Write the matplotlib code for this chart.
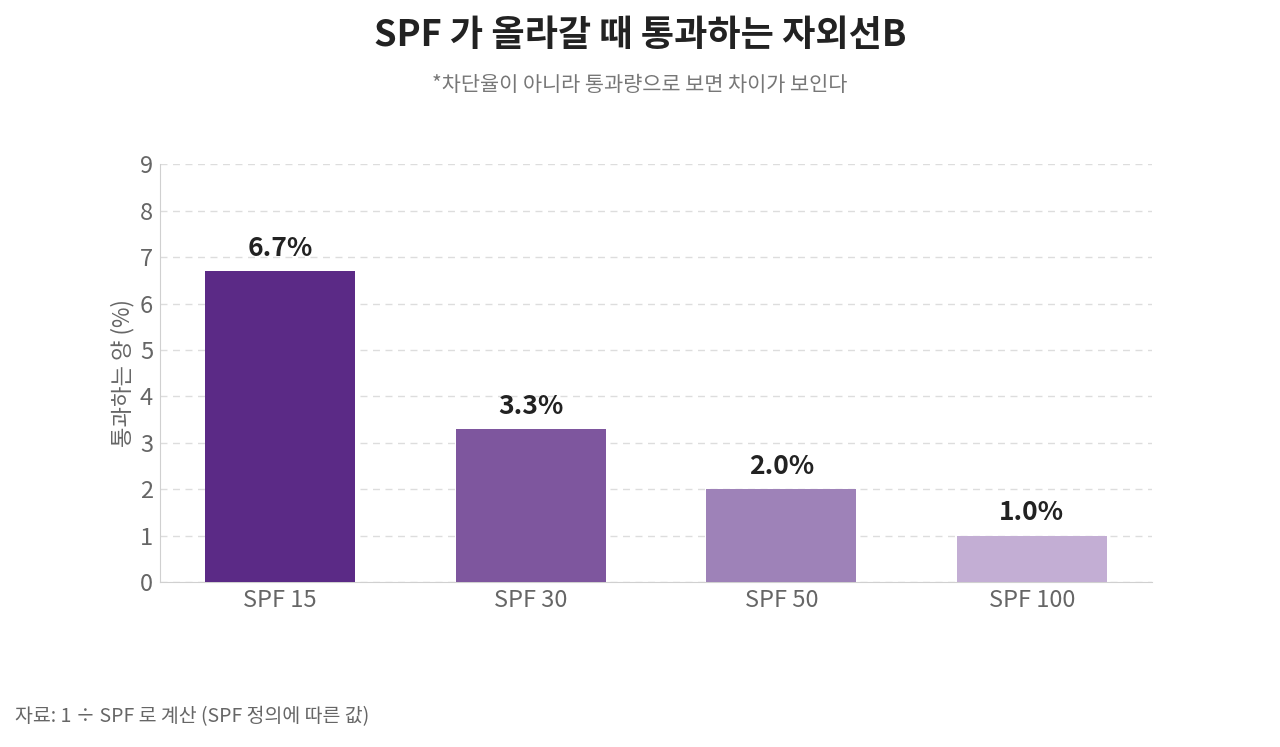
import matplotlib
matplotlib.use('Agg')
import matplotlib.pyplot as plt

plt.rcParams['font.family'] = ['Noto Sans CJK KR', 'DejaVu Sans']

categories = ['SPF 15', 'SPF 30', 'SPF 50', 'SPF 100']
values = [6.7, 3.3, 2.0, 1.0]
labels = ['6.7%', '3.3%', '2.0%', '1.0%']
colors = ['#5b2a86', '#7e569e', '#9e82b8', '#c3aed4']

fig = plt.figure(figsize=(12.8, 7.47), dpi=100)
ax = fig.add_axes([0.125, 0.221, 0.775, 0.559])

x = range(len(categories))
bars = ax.bar(x, values, width=0.6, color=colors, zorder=3)
for b, lab in zip(bars, labels):
    ax.text(b.get_x() + b.get_width() / 2, b.get_height() + 0.2, lab,
            ha='center', va='bottom', fontsize=19, fontweight='bold', color='#222222')

ax.set_xlim(-0.48, len(categories) - 0.52)
ax.set_ylim(0, 9)
ax.set_yticks(range(10))
ax.set_xticks(list(x))
ax.set_xticklabels(categories)
ax.tick_params(axis='both', length=0, labelsize=17, labelcolor='#666666')
ax.tick_params(axis='y', pad=5)
ax.tick_params(axis='x', pad=5)
ax.grid(axis='y', color='#dddddd', linestyle=(0, (5, 4)), linewidth=1, zorder=0)
for s in ['top', 'right']:
    ax.spines[s].set_visible(False)
for s in ['left', 'bottom']:
    ax.spines[s].set_color('#d0d0d0')
ax.set_ylabel('통과하는 양 (%)', fontsize=16, color='#666666', labelpad=4)

fig.text(0.5, 0.953, 'SPF 가 올라갈 때 통과하는 자외선B', ha='center', va='center',
         fontsize=26, fontweight='bold', color='#222222')
fig.text(0.5, 0.886, '*차단율이 아니라 통과량으로 보면 차이가 보인다', ha='center', va='center',
         fontsize=15, color='#777777')
fig.text(0.012, 0.04, '자료: 1 ÷ SPF 로 계산 (SPF 정의에 따른 값)', ha='left', va='center',
         fontsize=14, color='#666666')

fig.savefig('out.png', dpi=100)
